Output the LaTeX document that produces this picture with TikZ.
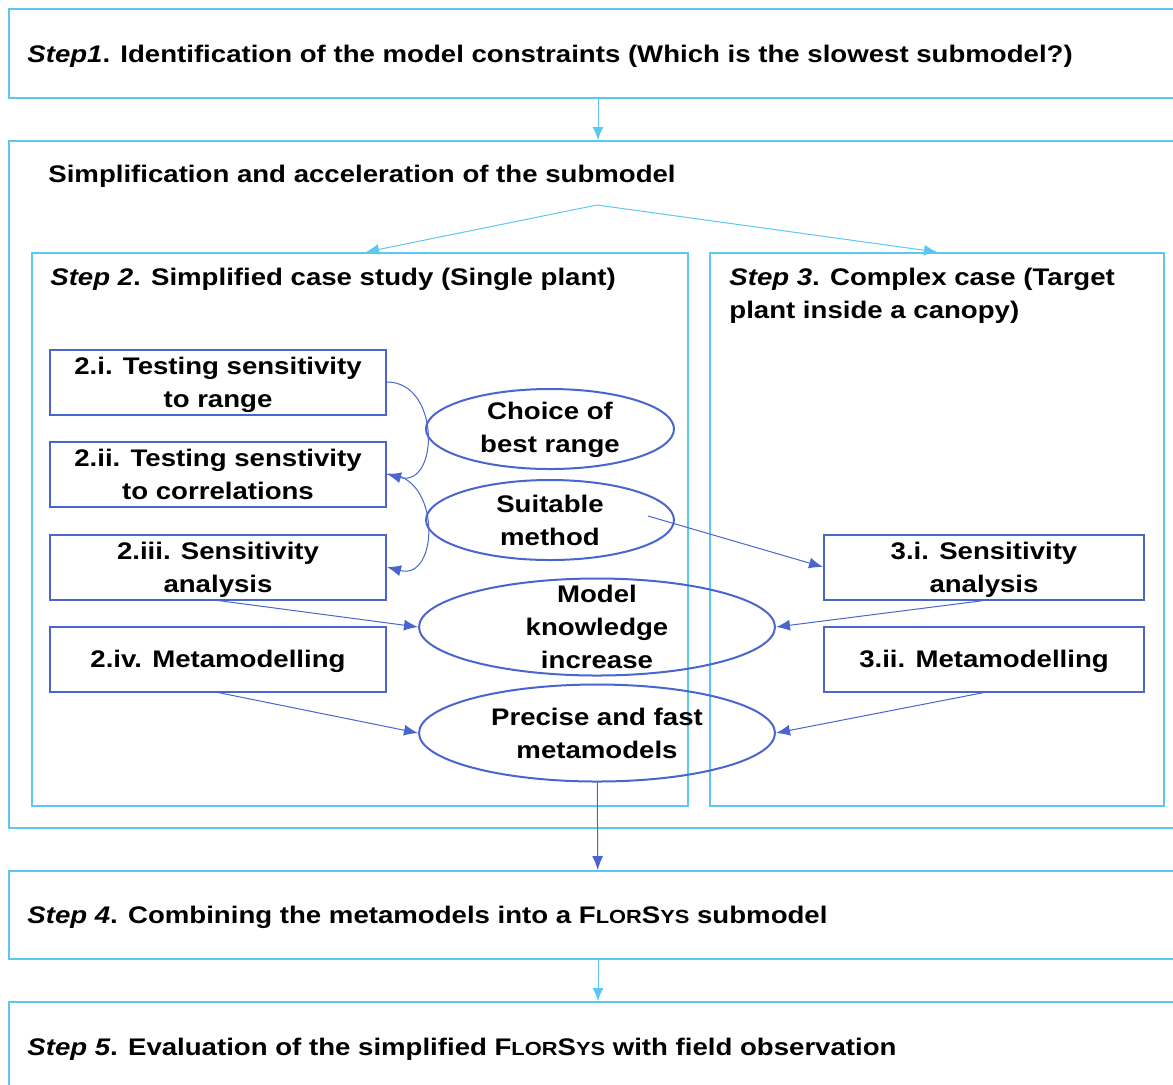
\documentclass[tikz,border=0pt]{standalone}
\usepackage{fontspec}
\setmainfont{Liberation Sans}[FakeStretch=1.15]
\usetikzlibrary{shapes.geometric,arrows.meta}

\newlength{\du}
\setlength{\du}{0.5pt}

\definecolor{paleline}{rgb}{0.357,0.784,0.941}
\definecolor{deepline}{rgb}{0.290,0.396,0.808}

% small caps by hand, the font has none
\newcommand{\florsys}{F{\fontsize{19\du}{19\du}\selectfont LOR}S{\fontsize{19\du}{19\du}\selectfont YS}}

\tikzset{
  labeltext/.style={font=\fontsize{24\du}{33\du}\selectfont\bfseries, inner sep=0pt, align=left},
  outerbox/.style={draw=paleline, line width=2\du, inner sep=0pt},
  innerbox/.style={draw=deepline, line width=2\du, inner sep=0pt, minimum width=336\du, minimum height=65\du,
    font=\fontsize{24\du}{33\du}\selectfont\bfseries, align=center, text depth=0pt},
  oval/.style={ellipse, draw=deepline, line width=2\du, inner sep=0pt},
  ovaltext/.style={font=\fontsize{24\du}{33\du}\selectfont\bfseries, inner sep=0pt, align=center},
  palearrow/.style={draw=paleline, line width=1\du, -{Latex[length=6.5pt,width=5.5pt]}},
  deeparrow/.style={draw=deepline, line width=1\du, -{Latex[length=7pt,width=5.5pt]}},
}

\begin{document}
\begin{tikzpicture}
\pgftransformyscale{-1.000000}
\useasboundingbox (0,0) rectangle (1173\du,1084\du);
\clip (0,0) rectangle (1173\du,1084\du);

% step 1
\node[outerbox, anchor=north west, minimum width=1178\du, minimum height=89\du] (step1) at (8\du,8\du) {};
\node[labeltext, anchor=west] (step1txt) at (27\du,56\du) {\textit{Step1}. Identification of the model constraints (Which is the slowest submodel?)};

% simplification frame
\node[outerbox, anchor=north west, minimum width=1178\du, minimum height=687\du] (simp) at (8\du,140\du) {};
\node[labeltext, anchor=west] (simptxt) at (48\du,176\du) {Simplification and acceleration of the submodel};
\coordinate (fork) at (597\du,205\du);

% step 2 and step 3 frames
\node[outerbox, anchor=north west, minimum width=656\du, minimum height=553\du] (step2) at (31\du,252\du) {};
\node[labeltext, anchor=west] (step2txt) at (50\du,279\du) {\textit{Step 2}. Simplified case study (Single plant)};
\node[outerbox, anchor=north west, minimum width=454\du, minimum height=553\du] (step3) at (709\du,252\du) {};
\node[labeltext, anchor=north west] (step3txt) at (729\du,268\du) {\textit{Step 3}. Complex case (Target\\plant inside a canopy)};

% inner boxes
\node[innerbox] (b2i) at (218\du,382\du) {2.i. Testing sensitivity\\to range};
\node[innerbox] (b2ii) at (218\du,474\du) {2.ii. Testing senstivity\\to correlations};
\node[innerbox] (b2iii) at (218\du,567\du) {2.iii. Sensitivity\\analysis};
\node[innerbox] (b2iv) at (218\du,659\du) {2.iv. Metamodelling};
\node[innerbox, minimum width=320\du] (b3i) at (984\du,567\du) {3.i. Sensitivity\\analysis};
\node[innerbox, minimum width=320\du] (b3ii) at (984\du,659\du) {3.ii. Metamodelling};

% ovals
\node[oval, minimum width=248\du, minimum height=80\du] (range) at (550\du,429\du) {};
\node[ovaltext] (rangetxt) at ([yshift=1\du]range) {Choice of\\best range};
\node[oval, minimum width=248\du, minimum height=80\du] (method) at (550\du,520\du) {};
\node[ovaltext] (methodtxt) at (method) {Suitable\\method};
\coordinate (methodout) at (648\du,516\du);
\node[oval, minimum width=356\du, minimum height=97\du] (know) at (597\du,627\du) {};
\node[ovaltext] (knowtxt) at (know) {Model\\knowledge\\increase};
\node[oval, minimum width=356\du, minimum height=97\du] (meta) at (597\du,733\du) {};
\node[ovaltext] (metatxt) at (meta) {Precise and fast\\metamodels};

% step 4 and step 5
\node[outerbox, anchor=north west, minimum width=1178\du, minimum height=88\du] (step4) at (8\du,870\du) {};
\node[labeltext, anchor=west] (step4txt) at (27\du,917\du) {\textit{Step 4}. Combining the metamodels into a \florsys\ submodel};
\node[outerbox, anchor=north west, minimum width=1178\du, minimum height=100\du] (step5) at (8\du,1001\du) {};
\node[labeltext, anchor=west] (step5txt) at (27\du,1049\du) {\textit{Step 5}. Evaluation of the simplified \florsys\ with field observation};

% connectors
\draw[palearrow] (step1) -- (simp);
\draw[palearrow] (fork) -- ([xshift=6\du]step2.north);
\draw[palearrow] (fork) -- (step3.north);
\draw[deeparrow] (b2i.east) to[out=0, in=15, looseness=1.5] (b2ii.east);
\draw[deeparrow] (b2ii.east) to[out=0, in=15, looseness=1.5] (b2iii.east);
\draw[deeparrow] (methodout) -- (b3i.west);
\draw[deeparrow] (b2iii.south) -- (know.west);
\draw[deeparrow] (b3i.south) -- (know.east);
\draw[deeparrow] (b2iv.south) -- (meta.west);
\draw[deeparrow] (b3ii.south) -- (meta.east);
\draw[deeparrow] (meta) -- (step4);
\draw[palearrow] (step4) -- (step5);
\end{tikzpicture}
\end{document}
